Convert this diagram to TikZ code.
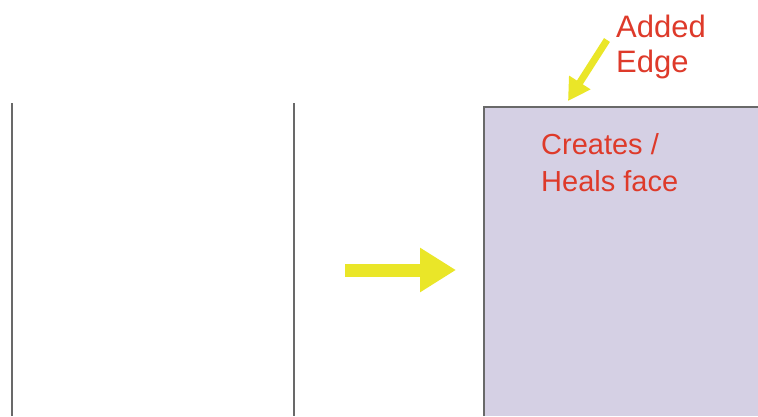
\documentclass[tikz,border=0pt]{standalone}
\usepackage{fontspec}
\setmainfont{Liberation Sans}
\usepackage{xcolor}
\usetikzlibrary{arrows.meta}
\definecolor{faceLav}{RGB}{213,208,228}
\definecolor{labelRed}{RGB}{222,58,42}
\definecolor{arrowYel}{RGB}{234,230,40}
\definecolor{edgeGray}{RGB}{105,105,105}
\tikzset{
  edgeline/.style={edgeGray, line width=2pt},
  bigarrow/.style={arrowYel, line width=13pt, -{Triangle[length=36pt,width=42pt]}},
  smallarrow/.style={arrowYel, line width=7pt, -{Triangle[length=22pt,width=24pt]}},
  redlabel/.style={labelRed, inner sep=0pt, anchor=north west, align=left}
}

\begin{document}
\begin{tikzpicture}[x=1pt,y=-1pt]
        \useasboundingbox [fill=white] (0,0) rectangle (758,416);
        % left panel: face before
        \draw [edgeline] (12,103) -- (12,416);
        \draw [edgeline] (294,103) -- (294,416);
        % right panel: face after
        \fill [faceLav] (484,107) rectangle (758,416);
        \coordinate (eL) at (484,107);
        \coordinate (eR) at (758,107);
        \coordinate (eB) at (484,416);
        \draw [edgeline] (eB) -- (eL) -- (eR);
        % arrows
        \coordinate (mvS) at (345,270);
        \coordinate (mvE) at (456,270);
        \draw [bigarrow] (mvS) -- (mvE);
        \node [redlabel, font=\fontsize{31}{35}\selectfont] (added) at (616,15) {Added\\Edge};
        \coordinate (ptS) at (607,40);
        \coordinate (ptE) at (568,101);
        \draw [smallarrow] (ptS) -- (ptE);
        \node [redlabel, font=\fontsize{29}{37}\selectfont] (heal) at (541,133) {Creates /\\Heals face};
\end{tikzpicture}
\end{document}
